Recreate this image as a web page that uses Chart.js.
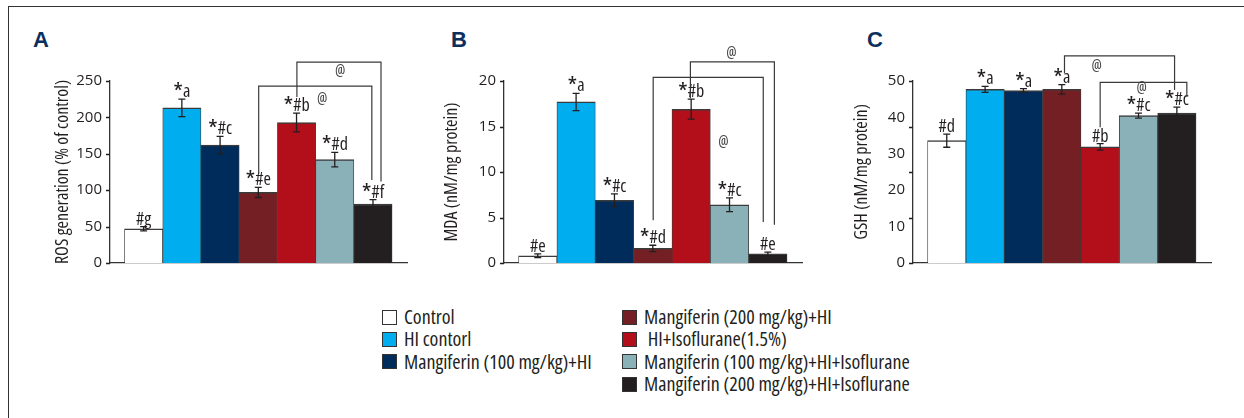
<!DOCTYPE html>
<html>
<head>
<meta charset="utf-8">
<script src="https://cdn.jsdelivr.net/npm/chart.js@4.4.1/dist/chart.umd.min.js"></script>
<style>
  body { margin: 0; background: #fff; width: 1244px; height: 418px; overflow: hidden; position: relative;
         font-family: 'Open Sans', sans-serif; font-stretch: 75%; color: #231f20; }
  .frame-top { position: absolute; left: 8px; top: 6px; width: 1236px; border-top: 1.4px solid #333; }
  .frame-left { position: absolute; left: 7.5px; top: 6px; height: 412px; border-left: 1.4px solid #333; }
  canvas { position: absolute; top: 0; }
  .letter { position: absolute; top: 27px; font: bold 22px 'Liberation Sans', sans-serif; color: #0c2f5e; }
  .legend { position: absolute; top: 306px; }
  .legend div { height: 22.3px; line-height: 22.3px; font-size: 20px; font-weight: 500; white-space: pre; display: flex; align-items: center; }
  .legend span.box { width: 15px; height: 15px; border: 1px solid #333; margin-right: 7px; box-sizing: border-box; display: inline-block; }
</style>
</head>
<body>
<div class="frame-top"></div>
<div class="frame-left"></div>
<div class="letter" style="left:33px">A</div>
<div class="letter" style="left:451px">B</div>
<div class="letter" style="left:867px">C</div>
<canvas id="chartA" width="415" height="290" style="left:0px"></canvas>
<canvas id="chartB" width="415" height="290" style="left:415px"></canvas>
<canvas id="chartC" width="414" height="290" style="left:830px"></canvas>
<div class="legend" id="legend1" style="left:382px"></div>
<div class="legend" id="legend2" style="left:622px"></div>
<script>
// groups and colours
const groups = ['Control', 'HI contorl', 'Mangiferin (100 mg/kg)+HI', 'Mangiferin (200 mg/kg)+HI',
    ' HI+Isoflurane(1.5%)', 'Mangiferin (100 mg/kg)+HI+Isoflurane', 'Mangiferin (200 mg/kg)+HI+Isoflurane'];
const barColors = ['#ffffff', '#00adee', '#002c5b', '#741f23', '#b20f1b', '#89b1b7', '#231f20'];

// A - ROS generation
const rosValues = [47, 213, 162, 97, 193, 142, 81];
const rosErrors = [3, 12, 12, 7, 13, 10, 6];
const rosMarks = ['#g', '*a', '*#c', '*#e', '*#b', '*#d', '*#f'];
const rosTicks = [0, 50, 100, 150, 200, 250];
// brackets: [from, to, top, left end, right end]
const rosBrackets = [[3.01, 5.97, 243, 123, 114], [4.01, 6.21, 276, 228, 112]];
const rosAts = [[5.14, 263], [4.67, 225]];

// B - MDA
const mdaValues = [0.8, 17.7, 6.9, 1.6, 16.9, 6.4, 1.0];
const mdaErrors = [0.2, 0.95, 0.7, 0.35, 1.1, 0.75, 0.2];
const mdaMarks = ['#e', '*a', '*#c', '*#d', '*#b', '*#c', '#e'];
const mdaTicks = [0, 5, 10, 15, 20];
const mdaBrackets = [[3.01, 5.88, 20.4, 4.7, 4.5], [3.98, 6.17, 22.1, 18.1, 4.2]];
const mdaAts = [[5.05, 23.0], [4.84, 13.3]];

// C - GSH
const gshValues = [33.6, 47.7, 47.4, 47.7, 31.9, 40.5, 41.2];
const gshErrors = [1.8, 0.8, 0.5, 1.3, 0.9, 0.7, 1.6];
const gshMarks = ['#d', '*a', '*a', '*a', '#b', '*#c', '*#c'];
const gshTicks = [0, 10, 20, 30, 40, 50];
const gshTickMarks = [0, 12.5, 25, 37.5, 50];
const gshBrackets = [[3.07, 5.94, 56.9, 52.1, 47.5], [4.0, 6.26, 49.6, 37.3, 45.7]];
const gshAts = [[3.91, 53.9], [5.08, 48]];

const INK = '#231f20';
const FAMILY = "'Open Sans', sans-serif";
// canvas font strings take the weight and stretch keywords before the size
const markFont = '500 condensed 18px ' + FAMILY;
const starFont = '500 condensed 25px ' + FAMILY;

function drawMark(ctx, text, cx, base) {
    const star = text[0] === '*';
    const rest = star ? text.slice(1) : text;
    ctx.font = markFont;
    const wr = ctx.measureText(rest).width;
    ctx.font = starFont;
    const ws = star ? ctx.measureText('*').width : 0;
    const left = cx - (ws + wr) / 2;
    ctx.textAlign = 'left';
    ctx.textBaseline = 'alphabetic';
    if (star) ctx.fillText('*', left, base + 5);
    ctx.font = markFont;
    ctx.fillText(rest, left + ws, base + 1);
}

function annotations(values, errors, marks, tickMarks, brackets, ats) {
    return {
        id: 'annotations',
        afterDatasetsDraw(chart) {
            const { ctx, scales: { x, y } } = chart;
            ctx.save();
            ctx.strokeStyle = INK;
            ctx.fillStyle = INK;
            ctx.lineWidth = 1.3;

            // tick marks on the y axis
            ctx.beginPath();
            tickMarks.forEach(t => {
                const py = Math.round(y.getPixelForValue(t)) + 0.5;
                ctx.moveTo(x.left - 4, py);
                ctx.lineTo(x.left, py);
            });
            ctx.stroke();

            // error bars + significance marks
            values.forEach((v, i) => {
                const cx = x.getPixelForValue(i);
                const hi = y.getPixelForValue(v + errors[i]);
                const lo = y.getPixelForValue(v - errors[i]);
                ctx.beginPath();
                ctx.moveTo(cx, hi); ctx.lineTo(cx, lo);
                ctx.moveTo(cx - 3.5, hi); ctx.lineTo(cx + 3.5, hi);
                ctx.moveTo(cx - 3.5, lo); ctx.lineTo(cx + 3.5, lo);
                ctx.stroke();
                drawMark(ctx, marks[i], cx, hi - 3);
            });

            // comparison brackets
            ctx.strokeStyle = '#3a3a3a';
            ctx.lineWidth = 1.2;
            brackets.forEach(([x1, x2, top, e1, e2]) => {
                const pt = y.getPixelForValue(top);
                ctx.beginPath();
                ctx.moveTo(x.getPixelForValue(x1), y.getPixelForValue(e1));
                ctx.lineTo(x.getPixelForValue(x1), pt);
                ctx.lineTo(x.getPixelForValue(x2), pt);
                ctx.lineTo(x.getPixelForValue(x2), y.getPixelForValue(e2));
                ctx.stroke();
            });

            ctx.fillStyle = '#444';
            ctx.font = 'condensed 16px ' + FAMILY;
            ctx.textAlign = 'center';
            ctx.textBaseline = 'middle';
            ats.forEach(([ax, ay]) => ctx.fillText('@', x.getPixelForValue(ax), y.getPixelForValue(ay)));
            ctx.restore();
        }
    };
}

function makePanel(id, values, errors, marks, ticks, tickMarks, brackets, ats, title, pad, axisWidth, titlePad) {
    return new Chart(document.getElementById(id), {
        type: 'bar',
        data: {
            datasets: [{
                data: values.map((v, i) => ({ x: i, y: v })),
                backgroundColor: barColors,
                borderColor: '#3b3b3b',
                borderWidth: { top: 1.5, left: 0.8, right: 0.8, bottom: 0 },
                borderSkipped: false,
                categoryPercentage: 1,
                barPercentage: 1,
            }],
        },
        options: {
            responsive: false,
            animation: false,
            devicePixelRatio: 1,
            events: [],
            layout: { padding: pad },
            plugins: { legend: { display: false }, tooltip: { enabled: false } },
            scales: {
                x: {
                    type: 'linear',
                    offset: false,
                    min: -0.88,
                    max: 6.89,
                    afterBuildTicks: s => { s.ticks = groups.map((g, i) => ({ value: i })); },
                    ticks: { display: false },
                    grid: { display: false, drawTicks: false },
                    border: { display: true, color: '#333', width: 1.3 },
                },
                y: {
                    min: ticks[0],
                    max: ticks[ticks.length - 1],
                    afterBuildTicks: s => { s.ticks = ticks.map(t => ({ value: t })); },
                    afterFit: s => { s.width = axisWidth; },
                    ticks: { color: INK, padding: 8, font: { family: FAMILY, size: 15, weight: '500' } },
                    grid: { display: false, drawTicks: false },
                    border: { display: true, color: '#333', width: 1.3 },
                    title: {
                        display: true,
                        text: title,
                        color: INK,
                        padding: { top: titlePad, bottom: 0 },
                        font: { family: FAMILY, size: 18, weight: '500 condensed' },
                    },
                },
            },
        },
        plugins: [annotations(values, errors, marks, tickMarks, brackets, ats)],
    });
}

makePanel('chartA', rosValues, rosErrors, rosMarks, rosTicks, rosTicks, rosBrackets, rosAts,
    'ROS generation (% of control)', { top: 81, bottom: 27, right: 8, left: 50 }, 60, 2);
makePanel('chartB', mdaValues, mdaErrors, mdaMarks, mdaTicks, mdaTicks, mdaBrackets, mdaAts,
    'MDA (nM/mg protein)', { top: 81, bottom: 27, right: 28, left: 25 }, 64, 1);
makePanel('chartC', gshValues, gshErrors, gshMarks, gshTicks, gshTickMarks, gshBrackets, gshAts,
    'GSH (nM/mg protein)', { top: 81, bottom: 27, right: 33, left: 20 }, 63, 1);

// legend, two columns
function fillLegend(el, idx) {
    idx.forEach(i => {
        const row = document.createElement('div');
        const box = document.createElement('span');
        box.className = 'box';
        box.style.background = barColors[i];
        row.append(box, document.createTextNode(groups[i]));
        el.append(row);
    });
}
fillLegend(document.getElementById('legend1'), [0, 1, 2]);
fillLegend(document.getElementById('legend2'), [3, 4, 5, 6]);
</script>
</body>
</html>
